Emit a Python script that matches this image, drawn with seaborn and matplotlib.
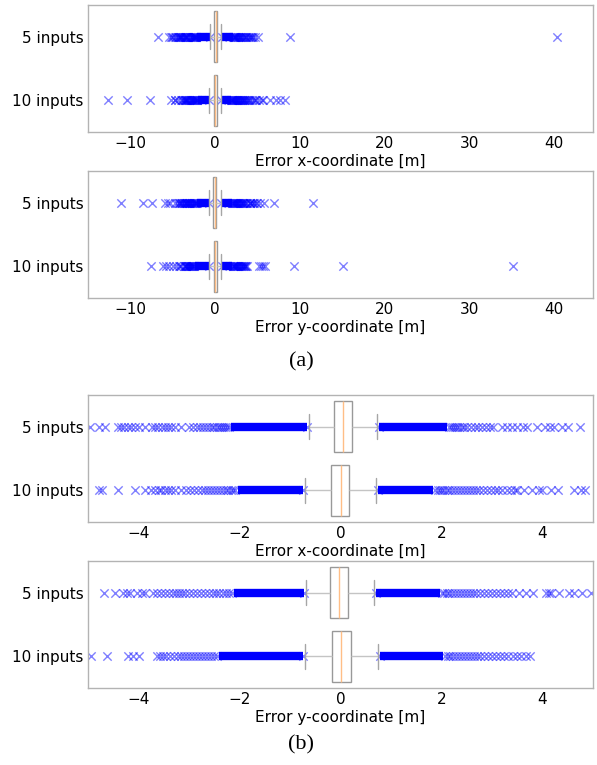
"""
Error boxplots for the 5- and 10-input localisation models,
full range (a) and zoomed to +-5 m (b).
"""
import matplotlib
matplotlib.use('Agg')
import matplotlib.pyplot as plt
import pandas as pd
import seaborn as sns

ROWS = ['5 inputs', '10 inputs']

# five-number summaries: [whisker low, q1, median, q3, whisker high]
x_box_5 = [-0.62, -0.12, 0.05, 0.22, 0.72]
x_box_10 = [-0.71, -0.18, 0.0, 0.17, 0.71]
y_box_5 = [-0.68, -0.20, -0.03, 0.14, 0.66]
y_box_10 = [-0.71, -0.17, 0.01, 0.20, 0.74]

# extent of the solid run of overlapping outliers: [left outer, left inner, right inner, right outer]
x_band_5 = [-2.17, -0.66, 0.76, 2.10]
x_band_10 = [-2.03, -0.75, 0.75, 1.84]
y_band_5 = [-2.10, -0.72, 0.70, 1.97]
y_band_10 = [-2.40, -0.75, 0.78, 2.03]

# outliers (outside the solid run)
x_fliers_5 = [
    -0.66, -2.2, -2.24, -2.28, -2.32, -2.36, -2.4, -2.45, -2.5, -2.55, -2.6, -2.66,
    -2.72, -2.78, -2.85, -2.92, -3.0, -3.15, -3.28, -3.35, -3.41, -3.48, -3.54,
    -3.61, -3.68, -3.74, -3.87, -4.0, -4.06, -4.14, -4.2, -4.29, -4.35, -4.4,
    -4.67, -4.79, -4.96, -5.1, -5.2, -5.4, -6.7,
    0.76, 2.14, 2.18, 2.22, 2.26, 2.3, 2.35, 2.4, 2.45, 2.5, 2.58, 2.66, 2.72,
    2.8, 2.88, 2.95, 3.02, 3.2, 3.3, 3.4, 3.49, 3.62, 3.69, 3.89, 4.05, 4.15,
    4.22, 4.38, 4.51, 4.74, 5.1, 8.85, 40.3,
]
x_fliers_10 = [
    -0.75, -2.08, -2.12, -2.17, -2.22, -2.27, -2.32, -2.38, -2.44, -2.5, -2.56,
    -2.62, -2.68, -2.74, -2.82, -2.9, -2.98, -3.06, -3.15, -3.28, -3.35, -3.42,
    -3.48, -3.55, -3.6, -3.68, -3.75, -3.88, -4.06, -4.41, -4.72, -4.79, -5.2,
    -7.67, -10.35, -12.67,
    0.75, 1.88, 1.92, 1.96, 2.0, 2.05, 2.1, 2.15, 2.2, 2.26, 2.32, 2.38, 2.44,
    2.5, 2.56, 2.62, 2.68, 2.74, 2.82, 2.9, 2.98, 3.05, 3.12, 3.2, 3.3, 3.38,
    3.45, 3.5, 3.63, 3.79, 3.92, 3.98, 4.17, 4.3, 4.63, 4.76, 4.85, 5.2, 5.5,
    5.7, 6.5, 7.2, 7.6, 8.2,
]
y_fliers_5 = [
    -0.72, -2.14, -2.2, -2.26, -2.32, -2.4, -2.46, -2.52, -2.6, -2.68, -2.76,
    -2.84, -2.92, -3.0, -3.08, -3.14, -3.2, -3.26, -3.32, -3.4, -3.48, -3.56,
    -3.64, -3.71, -3.87, -3.93, -4.03, -4.17, -4.22, -4.3, -4.47, -4.69, -5.3,
    -5.6, -5.9, -7.4, -8.5, -11.05,
    0.70, 2.01, 2.05, 2.1, 2.15, 2.2, 2.26, 2.32, 2.38, 2.44, 2.5, 2.56, 2.62,
    2.68, 2.76, 2.84, 2.92, 3.0, 3.08, 3.16, 3.24, 3.32, 3.4, 3.54, 3.67, 3.81,
    4.07, 4.12, 4.17, 4.33, 4.53, 4.63, 4.79, 4.95, 5.3, 5.8, 6.9, 11.6,
]
y_fliers_10 = [
    -0.75, -2.44, -2.5, -2.56, -2.62, -2.68, -2.74, -2.8, -2.86, -2.92, -2.98,
    -3.04, -3.1, -3.16, -3.21, -3.3, -3.38, -3.45, -3.52, -3.58, -3.64, -3.99,
    -4.1, -4.21, -4.63, -4.94, -5.4, -5.8, -6.2, -7.6,
    0.78, 2.07, 2.12, 2.17, 2.22, 2.28, 2.34, 2.4, 2.46, 2.52, 2.58, 2.64, 2.7,
    2.76, 2.84, 2.92, 3.0, 3.08, 3.16, 3.24, 3.32, 3.41, 3.5, 3.58, 3.68, 3.76,
    5.2, 5.4, 5.6, 5.9, 9.3, 15.05, 35.1,
]

FULL_LIM = (-15, 44.6)
ZOOM_LIM = (-5, 5)


def draw_panel(ax, boxes, bands, fliers, xlim, xlabel):
    """

    """
    box_df = pd.DataFrame({
        'error': boxes[0] + boxes[1],
        'model': [ROWS[0]] * len(boxes[0]) + [ROWS[1]] * len(boxes[1]),
    })
    flier_df = pd.DataFrame({
        'error': fliers[0] + fliers[1],
        'model': [ROWS[0]] * len(fliers[0]) + [ROWS[1]] * len(fliers[1]),
    })

    for i, band in enumerate(bands):
        ax.hlines([i, i], [band[0], band[2]], [band[1], band[3]],
                  color='#0000ff', linewidth=6, zorder=1)

    sns.stripplot(data=flier_df, x='error', y='model', order=ROWS, jitter=False,
                  marker='x', color='#0000ff', alpha=0.5, size=6, linewidth=1,
                  ax=ax, zorder=2)

    sns.boxplot(data=box_df, x='error', y='model', order=ROWS, whis=(0, 100),
                width=0.8, color='white', linecolor='#999999', linewidth=1,
                showfliers=False, medianprops=dict(color='#ffbe86'),
                whiskerprops=dict(color='#c4c4c4'), capprops=dict(color='#a6a6a6'),
                ax=ax, zorder=3)

    ax.set_xlim(*xlim)
    ax.set_ylim(1.5, -0.5)
    ax.set_ylabel('')
    ax.set_xlabel(xlabel, fontsize=11, labelpad=2, color='black')
    ax.tick_params(length=0, labelsize=11, pad=3, labelcolor='black')
    for spine in ax.spines.values():
        spine.set_color('#b3b3b3')
        spine.set_linewidth(1)


if __name__ == '__main__':

    sns.set_theme(style='white')
    plt.rcParams['font.family'] = ['DejaVu Sans']
    plt.rcParams['text.color'] = 'black'

    fig = plt.figure(figsize=(5.97, 7.65), dpi=100)

    ax1 = fig.add_axes([0.1474, 0.8275, 0.846, 0.166])
    ax2 = fig.add_axes([0.1474, 0.6105, 0.846, 0.166])
    ax3 = fig.add_axes([0.1474, 0.3176, 0.846, 0.166])
    ax4 = fig.add_axes([0.1474, 0.1007, 0.846, 0.166])

    x_boxes = (x_box_5, x_box_10)
    y_boxes = (y_box_5, y_box_10)
    x_bands = (x_band_5, x_band_10)
    y_bands = (y_band_5, y_band_10)
    x_fliers = (x_fliers_5, x_fliers_10)
    y_fliers = (y_fliers_5, y_fliers_10)

    draw_panel(ax1, x_boxes, x_bands, x_fliers, FULL_LIM, 'Error x-coordinate [m]')
    draw_panel(ax2, y_boxes, y_bands, y_fliers, FULL_LIM, 'Error y-coordinate [m]')
    draw_panel(ax3, x_boxes, x_bands, x_fliers, ZOOM_LIM, 'Error x-coordinate [m]')
    draw_panel(ax4, y_boxes, y_bands, y_fliers, ZOOM_LIM, 'Error y-coordinate [m]')

    fig.text(0.505, 0.527, '(a)', ha='center', va='center', fontsize=16,
             family='Liberation Serif', color='black')
    fig.text(0.505, 0.026, '(b)', ha='center', va='center', fontsize=16,
             family='Liberation Serif', color='black')

    fig.savefig('out.png', dpi=100)
